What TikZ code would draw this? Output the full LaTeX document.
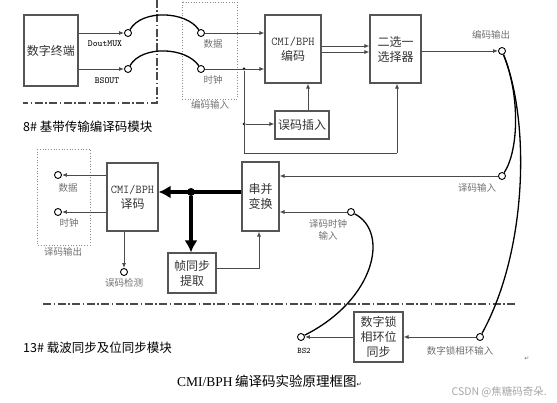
\documentclass[tikz,border=0pt]{standalone}
\usepackage{fontspec}
\setmainfont{Liberation Serif}
\newfontfamily\cjk{Noto Sans CJK SC}
\newfontfamily\dejavu{DejaVu Sans}
\usetikzlibrary{arrows.meta}
\definecolor{boxc}{HTML}{555555}
\definecolor{linec}{HTML}{4A4A4A}
\definecolor{labc}{HTML}{707070}
\definecolor{txtc}{HTML}{333333}
\begin{document}
\begin{tikzpicture}[x=1pt,y=-1pt,
 blk/.style={draw=boxc, line width=1.1pt, inner sep=0pt, align=center, text=txtc, font=\cjk\fontsize{12}{15}\selectfont},
 term/.style={circle, draw=black, fill=white, line width=0.9pt, minimum size=7pt, inner sep=0pt},
 conn/.style={draw=linec, line width=0.9pt},
 arr/.style={conn, -{Latex[length=5pt,width=4pt]}},
 wire/.style={draw=black, line width=1.3pt},
 bus/.style={draw=black, line width=4.2pt, -{Latex[length=12pt,width=13pt]}},
 lab/.style={text=labc, font=\cjk\fontsize{9.5}{12}\selectfont, inner sep=0pt, align=center},
 title/.style={text=black, font=\cjk\fontsize{12.5}{14}\selectfont, inner sep=0pt, anchor=west},
 dashdot/.style={draw=linec, line width=1.1pt, dash pattern=on 8pt off 2.5pt on 1.5pt off 2.5pt},
 dotbox/.style={draw=labc!80, line width=0.7pt, dotted},
 jdot/.style={circle, fill=black, inner sep=0pt, minimum size=3pt}
]
\useasboundingbox (0,0) rectangle (557,403);

% separators and dotted groups
\draw[dashdot] (157,0) -- (157,103) -- (23,103);
\draw[dashdot] (43,304) -- (515,304);
\draw[dotbox] (182,2) rectangle (237,99);
\draw[dotbox] (37,149) rectangle (90,245);

% blocks
\node[blk, minimum width=54pt, minimum height=71pt] (term) at (51,50.5) {数字终端};
\node[blk, minimum width=56pt, minimum height=68pt] (enc) at (293,49) {{\ttfamily\fontsize{12}{15}\selectfont CMI/BPH}\\编码};
\node[blk, minimum width=51pt, minimum height=68pt] (sel) at (395.5,49) {二选一\\选择器};
\node[blk, minimum width=54pt, minimum height=28pt] (err) at (302,125) {误码插入};
\node[blk, minimum width=51pt, minimum height=68pt] (dec) at (132.5,197) {{\ttfamily\fontsize{12}{15}\selectfont CMI/BPH}\\译码};
\node[blk, minimum width=37pt, minimum height=69pt] (sp) at (260.5,196.5) {串并\\变换};
\node[blk, minimum width=48pt, minimum height=40pt] (frame) at (192,273) {帧同步\\提取};
\node[blk, minimum width=49pt, minimum height=50pt] (pll) at (378.5,337) {数字锁\\相环位\\同步};

% terminals
\node[term] (c1) at (128,33) {};
\node[term] (c2) at (201,33) {};
\node[term] (c3) at (128,69) {};
\node[term] (c4) at (201,69) {};
\node[term] (eo) at (502,51) {};
\node[term] (di) at (502,176) {};
\node[term] (ci) at (351,212) {};
\node[term] (pi) at (480,337) {};
\node[term] (bs) at (301,337) {};
\node[term] (od) at (58,175) {};
\node[term] (oc) at (58,212) {};
\node[term] (oe) at (124,272) {};

% junctions
\node[jdot] (j1) at (244,69) {};
\node[jdot] (j2) at (244,124) {};
\coordinate (j3) at (244,153);
\coordinate (j4) at (397,153);
\coordinate (ea) at (308,0);
\coordinate (fk) at (259,268);
\node[circle, fill=black, inner sep=0pt, minimum size=8pt] (jt) at (191,192) {};

% labels
\node[inner sep=0pt, font=\ttfamily\fontsize{9.3}{11}\selectfont] (l1) at (105,44) {DoutMUX};
\node[inner sep=0pt, font=\ttfamily\fontsize{9.3}{11}\selectfont] (l2) at (107,81) {BSOUT};
\node[lab] (l3) at (213,44) {数据};
\node[lab] (l4) at (213,80) {时钟};
\node[lab] (l5) at (210,105) {编码输入};
\node[lab] (l6) at (491,35) {编码输出};
\node[lab] (l7) at (477,188) {译码输入};
\node[lab] (l8) at (328,229.5) {译码时钟\\输入};
\node[lab] (l9) at (68,188) {数据};
\node[lab] (l10) at (69,223) {时钟};
\node[lab] (l11) at (63,252) {译码输出};
\node[lab] (l12) at (124,283) {误码检测};
\node[inner sep=0pt, font=\ttfamily\fontsize{8.5}{10}\selectfont] (l13) at (304,351) {BS2};
\node[lab] (l14) at (460,351) {数字锁相环输入};
\node[title] (t1) at (23,127) {8\# 基带传输编译码模块};
\node[title] (t2) at (23,348) {13\# 载波同步及位同步模块};
\node[inner sep=0pt, anchor=west] (cap) at (177,381) {{\fontsize{13.5}{15}\selectfont CMI/BPH} {\cjk\fontsize{13.5}{15}\selectfont 编译码实验原理框图}{\dejavu\fontsize{6}{7}\selectfont ↵}};
\node[inner sep=0pt, text=labc, font=\dejavu\fontsize{6}{7}\selectfont] (rt) at (527,359) {↵};
\node[inner sep=0pt, anchor=east, text=black!35, font=\cjk\fontsize{10.5}{12}\selectfont] (wm) at (547,392) {CSDN @焦糖码奇朵.};

% encoder side connectors
\draw[arr] (term.east |- c1) -- (c1);
\draw[arr] (term.east |- c3) -- (c3);
\draw[wire] (c1) .. controls (142,9) and (186,11) .. (c2);
\draw[wire] (c3) .. controls (142,45) and (186,47) .. (c4);
\draw[arr] (c2) -- (enc.west |- c2);
\draw[arr] (c4) -- (enc.west |- c4);
\draw[conn] (j1) -- (j3) -- (j4);
\draw[arr] (j4) -- (j4 |- sel.south);
\draw[arr] (j2) -- (err.west |- j2);
\draw[arr] (err.north -| ea) -- (enc.south -| ea);
\draw[arr] ([yshift=3pt]enc.east) -- ([yshift=3pt]sel.west);
\draw[arr] ([yshift=-3pt]enc.east) -- ([yshift=-3pt]sel.west);
\draw[arr] (sel.east |- eo) -- (eo);

% patch wires
\draw[wire] (eo) .. controls (520,95) and (519,150) .. (di);
\draw[wire] (eo) .. controls (530,120) and (528,250) .. (pi);
\draw[wire] (ci) .. controls (390,232) and (375,300) .. (bs);

% decoder side connectors
\draw[arr] (di) -- (sp.east |- di);
\draw[arr] (ci) -- (sp.east |- ci);
\draw[bus] (sp.west |- jt) -- (dec.east |- jt);
\draw[bus] (jt) -- (frame.north -| jt);
\draw[arr] (frame.east |- fk) -- (fk) -- (sp.south -| fk);
\draw[arr] (dec.west |- od) -- (od);
\draw[arr] (dec.west |- oc) -- (oc);
\draw[arr] (dec.south -| oe) -- (oe);

% bit sync
\draw[arr] (pi) -- (pll.east |- pi);
\draw[arr] (pll.west |- bs) -- (bs);
\end{tikzpicture}
\end{document}
